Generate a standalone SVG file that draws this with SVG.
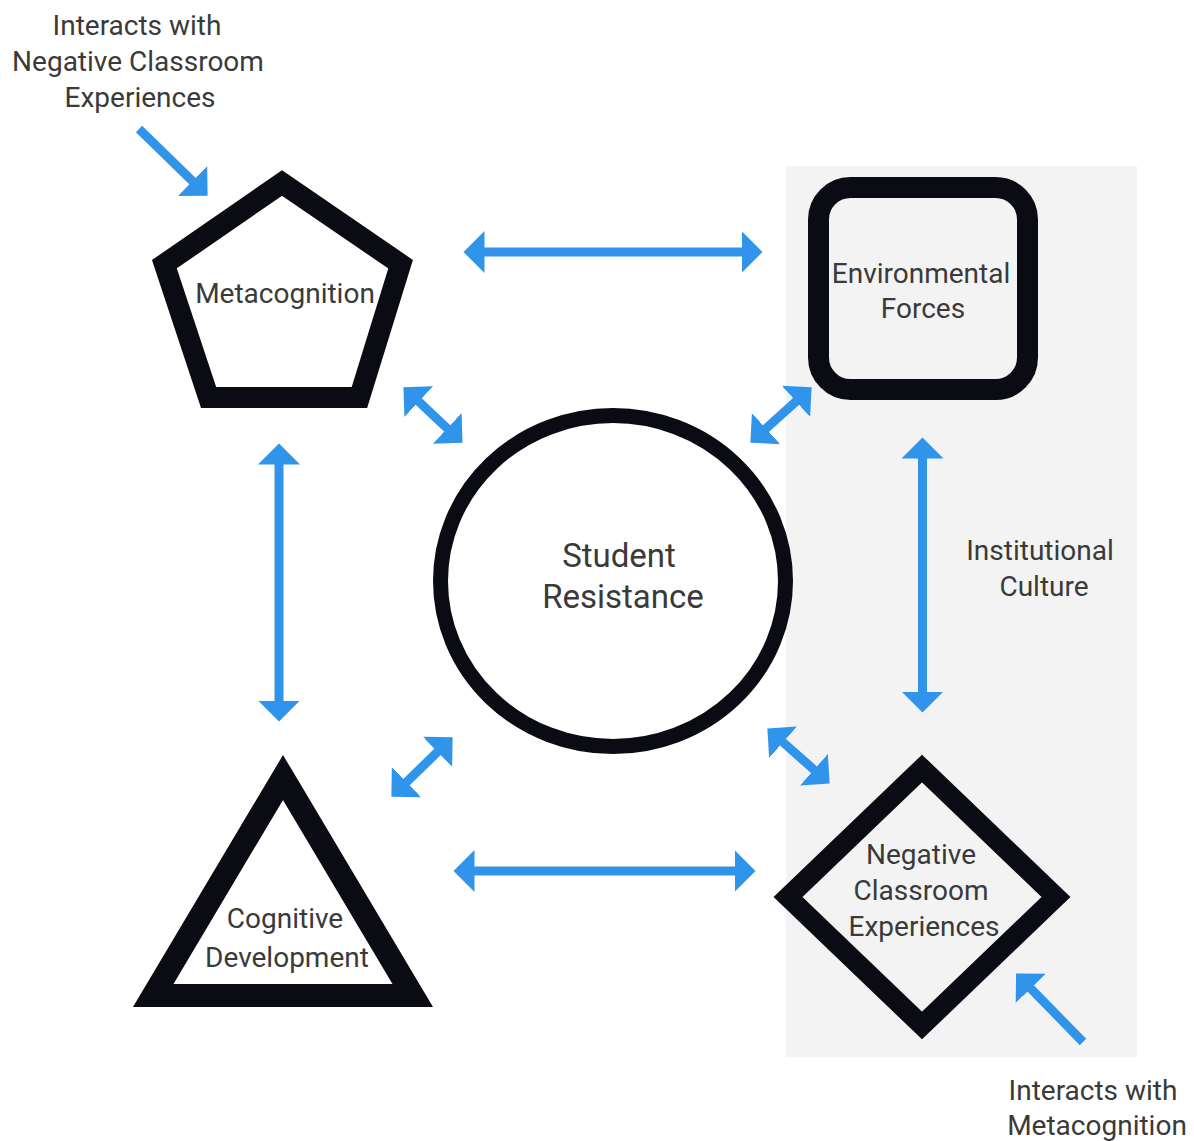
<svg xmlns="http://www.w3.org/2000/svg" width="1194" height="1141" viewBox="0 0 1194 1141">
  <style>
    .shape { fill: none; stroke: #0b0b14; stroke-linejoin: miter; stroke-miterlimit: 10; }
    .label { font-family: Roboto, "Liberation Sans", sans-serif; font-size: 28px; fill: #3a3a3a; text-anchor: middle; }
    .big { font-size: 33px; }
    .link { stroke: #3094ea; stroke-width: 9; fill: none; stroke-linecap: butt; }
  </style>
  <defs>
    <marker id="head" markerUnits="userSpaceOnUse" viewBox="0 -22 24 44" markerWidth="24" markerHeight="44" refX="0.5" refY="0" orient="auto-start-reverse">
      <path d="M0,-21 L21,0 L0,21 Z" fill="#3094ea"/>
    </marker>
  </defs>

  <rect width="1194" height="1141" fill="#ffffff"/>

  <!-- shaded region behind the right-hand column -->
  <rect id="panel" x="786" y="166" width="351" height="891" fill="#f3f3f3"/>

  <g id="node-metacognition">
    <polygon class="shape" stroke-width="21" points="282,183 400.6,264.2 359.4,397.5 208.6,397.5 164.4,264.2"/>
    <text class="label" x="285" y="303">Metacognition</text>
  </g>

  <g id="node-environmental">
    <rect class="shape" stroke-width="21" x="818.5" y="187.5" width="209" height="202" rx="32" ry="32"/>
    <text class="label" x="921" y="283">Environmental</text>
    <text class="label" x="923" y="318">Forces</text>
  </g>

  <g id="node-student">
    <ellipse class="shape" stroke-width="15" cx="613" cy="581" rx="172.5" ry="165.5"/>
    <text class="label big" x="619" y="567">Student</text>
    <text class="label big" x="623" y="608">Resistance</text>
  </g>

  <g id="node-cognitive">
    <polygon class="shape" stroke-width="23" points="283,777.5 412.8,995.5 153.2,995.5"/>
    <text class="label" x="285" y="928">Cognitive</text>
    <text class="label" x="287" y="967">Development</text>
  </g>

  <g id="node-negative">
    <polygon class="shape" stroke-width="20" points="922,768.5 1056,897 922,1025.5 788,897"/>
    <text class="label" x="921" y="864">Negative</text>
    <text class="label" x="921" y="900">Classroom</text>
    <text class="label" x="924" y="936">Experiences</text>
  </g>

  <g id="note-institutional">
    <text class="label" x="1040" y="560">Institutional</text>
    <text class="label" x="1044" y="596">Culture</text>
  </g>

  <g id="note-top-left">
    <text class="label" x="137" y="35">Interacts with</text>
    <text class="label" x="138" y="71">Negative Classroom</text>
    <text class="label" x="140" y="107">Experiences</text>
  </g>

  <g id="note-bottom-right">
    <text class="label" x="1093" y="1100">Interacts with</text>
    <text class="label" x="1097" y="1135">Metacognition</text>
  </g>

  <g id="connectors">
    <!-- two-way links -->
    <line class="link" x1="484" y1="252" x2="742" y2="252" marker-start="url(#head)" marker-end="url(#head)"/>
    <line class="link" x1="474" y1="871" x2="735" y2="871" marker-start="url(#head)" marker-end="url(#head)"/>
    <line class="link" x1="279" y1="464" x2="279" y2="701" marker-start="url(#head)" marker-end="url(#head)"/>
    <line class="link" x1="922.5" y1="458" x2="922.5" y2="692" marker-start="url(#head)" marker-end="url(#head)"/>
    <line class="link" x1="418.4" y1="401.3" x2="447.6" y2="428.7" marker-start="url(#head)" marker-end="url(#head)"/>
    <line class="link" x1="796.4" y1="401.1" x2="765.6" y2="428.9" marker-start="url(#head)" marker-end="url(#head)"/>
    <line class="link" x1="437.9" y1="751.6" x2="406.1" y2="782.4" marker-start="url(#head)" marker-end="url(#head)"/>
    <line class="link" x1="782.7" y1="742" x2="814.3" y2="770" marker-start="url(#head)" marker-end="url(#head)"/>
    <!-- one-way pointers from the notes -->
    <line class="link" x1="139" y1="129" x2="192.9" y2="181.4" marker-end="url(#head)"/>
    <line class="link" x1="1083" y1="1042" x2="1030.4" y2="988.1" marker-end="url(#head)"/>
  </g>
</svg>
